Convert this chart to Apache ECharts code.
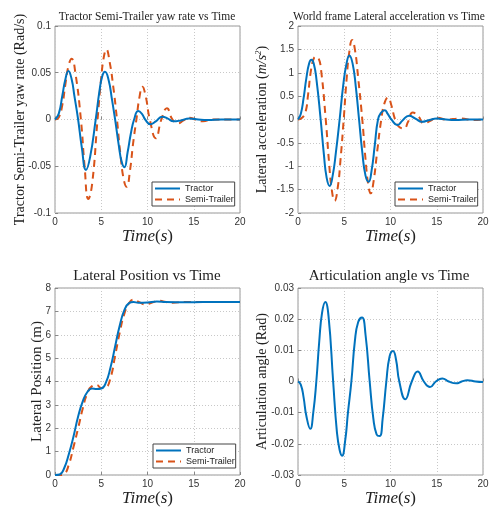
<!DOCTYPE html>
<html>
<head>
<meta charset="utf-8">
<script src="https://cdn.jsdelivr.net/npm/echarts@6/dist/echarts.min.js"></script>
<style>html,body{margin:0;padding:0;background:#fff}#c{width:492px;height:510px}</style>
</head>
<body>
<div id="c"></div>
<script>
// ---- Data ----
// Panel 1: yaw rate (Rad/s)
const yawTractorT = [0,0.4,0.8,1.1,1.45,1.8,2.1,2.5,2.9,3.35,3.8,4.4,4.8,5.1,5.4,5.8,6.15,6.5,6.9,7.2,7.5,7.85,8.2,8.55,9.0,9.4,9.75,10.3,10.9,11.6,12.2,12.8,13.6,14.5,15.5,16.5,18,20];
const yawTractorY = [0,0.006,0.026,0.042,0.052,0.043,0.025,0,-0.03,-0.054,-0.04,0,0.03,0.046,0.051,0.042,0.022,0,-0.028,-0.045,-0.051,-0.035,-0.015,0,0.009,0.006,0,-0.005,-0.002,0.003,0.001,-0.002,-0.001,0.001,0,-0.0005,0,0];
const yawTrailerT = [0,0.4,0.8,1.1,1.45,1.8,2.2,2.8,3.2,3.6,4.0,4.6,5.0,5.3,5.55,5.9,6.3,6.7,7.1,7.45,7.75,8.1,8.45,8.8,9.15,9.45,9.8,10.25,10.9,11.5,12.1,12.7,13.3,13.9,14.5,15.2,16.0,17.0,18.5,20];
const yawTrailerY = [0,0.002,0.016,0.036,0.057,0.065,0.05,0,-0.05,-0.085,-0.07,0,0.045,0.068,0.075,0.062,0.035,0,-0.04,-0.065,-0.072,-0.055,-0.025,0,0.025,0.035,0.025,0,-0.02,0,0.012,0,-0.004,-0.001,0.002,0,-0.002,0,0,0];

// Panel 2: lateral acceleration (m/s^2)
const accTractorT = [0,0.3,0.6,0.9,1.2,1.45,1.7,2.0,2.45,2.8,3.1,3.42,3.75,4.1,4.5,4.9,5.25,5.55,5.9,6.25,6.6,6.95,7.3,7.64,7.95,8.3,8.65,9.0,9.37,9.7,10.1,10.74,11.3,12.0,12.7,13.4,14.2,15.0,16,17,18.5,20];
const accTractorY = [0,0.12,0.45,0.88,1.2,1.28,1.2,0.85,0,-0.75,-1.25,-1.42,-1.2,-0.7,0,0.75,1.2,1.37,1.2,0.7,0,-0.7,-1.2,-1.33,-1.1,-0.55,0,0.15,0.2,0.12,0,-0.12,-0.02,0.08,0.02,-0.05,-0.01,0.02,0,-0.01,0,0];
const accTrailerT = [0,0.4,0.8,1.1,1.4,1.7,1.95,2.2,2.5,3.0,3.35,3.65,3.96,4.3,4.6,4.94,5.25,5.55,5.85,6.15,6.5,6.95,7.3,7.6,7.86,8.15,8.55,9.0,9.35,9.73,10.1,10.5,11.0,11.46,11.9,12.4,13.0,13.6,14.3,15.0,16.0,17.5,19,20];
const accTrailerY = [0,0.03,0.15,0.55,1.05,1.3,1.34,1.32,1.05,0,-0.9,-1.5,-1.74,-1.45,-0.85,0,0.85,1.45,1.7,1.5,0.9,0,-0.85,-1.4,-1.58,-1.35,-0.7,0,0.35,0.47,0.3,0,-0.17,-0.19,-0.05,0.15,0.07,-0.08,-0.03,0.04,0,0.02,-0.01,0];

// Panel 3: lateral position (m)
const posTractorT = [0,0.5,1.0,1.5,2.0,2.5,3.0,3.5,4.0,4.5,5.0,5.5,6.0,6.5,7.0,7.5,8.0,8.5,9.0,10,11,12,14,16,18,20];
const posTractorY = [0,0.02,0.3,0.9,1.65,2.5,3.15,3.55,3.7,3.68,3.7,3.95,4.6,5.5,6.4,7.05,7.35,7.4,7.37,7.38,7.42,7.4,7.39,7.4,7.4,7.4];
const posTrailerT = [0,0.5,1.0,1.5,2.0,2.5,3.0,3.5,4.0,4.5,5.0,5.5,6.0,6.5,7.0,7.5,8.0,8.5,9.0,9.8,10.5,11.3,12.0,12.7,14,16,18,20];
const posTrailerY = [0,0,0.05,0.45,1.2,2.0,2.85,3.5,3.8,3.85,3.72,3.75,4.15,5.1,6.1,6.9,7.35,7.5,7.42,7.3,7.38,7.45,7.4,7.37,7.4,7.4,7.4,7.4];

// Panel 4: articulation angle (Rad)
const artT = [0,0.3,0.6,0.9,1.33,1.65,1.98,2.3,2.6,2.95,3.3,3.8,4.2,4.5,4.76,5.1,5.4,5.77,6.15,6.5,6.92,7.3,7.75,8.15,8.5,8.83,9.15,9.55,9.9,10.27,10.6,10.95,11.6,12.3,12.94,13.6,14.27,14.9,15.6,16.3,17.1,17.7,18.3,19.2,20];
const artY = [0,-0.001,-0.005,-0.011,-0.0152,-0.01,0,0.013,0.022,0.0255,0.021,0,-0.016,-0.022,-0.0238,-0.019,-0.01,0,0.013,0.019,0.0205,0.015,0,-0.012,-0.017,-0.0175,-0.012,0,0.008,0.0098,0.007,0,-0.0057,0,0.0032,0,-0.0018,0,0.001,0,-0.0006,0,0.0004,0,-0.0002];

// Axis ranges / ticks
const xRange = [0, 20, 5];
const yRanges = [[-0.1, 0.1, 0.05], [-2, 2, 0.5], [0, 8, 1], [-0.03, 0.03, 0.01]];
const titles = ['Tractor Semi-Trailer yaw rate vs Time', 'World frame Lateral acceleration vs Time', 'Lateral Position vs Time', 'Articulation angle vs Time'];
const seriesNames = ['Tractor', 'Semi-Trailer'];

// ---- Layout / style ----
const BLUE = '#0072BD', ORANGE = '#D95319';
const SERIF = '"Liberation Serif","DejaVu Serif",serif';
const SANS = '"Liberation Sans",Arial,Helvetica,sans-serif';
const grids = [
  {left: 55, top: 26, width: 185, height: 187},
  {left: 298, top: 26, width: 185, height: 187},
  {left: 55, top: 288, width: 185, height: 187},
  {left: 298, top: 288, width: 185, height: 187}
];
const zip = (t, y) => t.map((v, i) => [v, y[i]]);

const timeName = '{i|Time}{r|(}{i|s}{r|)}';
const timeRich = {
  i: {fontFamily: SERIF, fontStyle: 'italic', fontSize: 17, color: '#222'},
  r: {fontFamily: SERIF, fontSize: 17, color: '#222'}
};

const yNames = [
  {text: 'Tractor Semi-Trailer yaw rate (Rad/s)', gap: 28, size: 14},
  {text: '{n|Lateral acceleration (}{i|m/s}{s|2}{n|)}', gap: 27, size: 14},
  {text: 'Lateral Position (m)', gap: 10, size: 15},
  {text: 'Articulation angle (Rad)', gap: 29, size: 14}
];

const xAxes = grids.map((g, i) => ({
  type: 'value', gridIndex: i, min: xRange[0], max: xRange[1], interval: xRange[2],
  name: timeName, nameLocation: 'middle', nameGap: 15,
  nameTextStyle: {rich: timeRich},
  axisLine: {show: false},
  axisTick: {show: true, inside: true, length: 3, lineStyle: {color: '#888'}},
  axisLabel: {fontFamily: SANS, fontSize: 10, color: '#333', margin: 4},
  splitLine: {show: true, lineStyle: {type: [1, 2], color: '#c8c8c8', width: 1}}
}));

const yAxes = grids.map((g, i) => ({
  type: 'value', gridIndex: i, min: yRanges[i][0], max: yRanges[i][1], interval: yRanges[i][2],
  name: yNames[i].text, nameLocation: 'middle', nameGap: yNames[i].gap,
  nameMoveOverlap: false,
  nameTextStyle: {
    fontFamily: SERIF, fontSize: yNames[i].size, color: '#222',
    rich: {
      n: {fontFamily: SERIF, fontSize: 14, color: '#222'},
      i: {fontFamily: SERIF, fontSize: 14, fontStyle: 'italic', color: '#222'},
      s: {fontFamily: SERIF, fontSize: 9, fontStyle: 'italic', color: '#222', verticalAlign: 'top', padding: [0, 0, 8, 0]}
    }
  },
  axisLine: {show: false},
  axisTick: {show: true, inside: true, length: 3, lineStyle: {color: '#888'}},
  axisLabel: {fontFamily: SANS, fontSize: 10, color: '#333', margin: 4},
  splitLine: {show: true, lineStyle: {type: [1, 2], color: '#c8c8c8', width: 1}}
}));

const lineSeries = (name, data, idx, color, dashed) => ({
  name, type: 'line', xAxisIndex: idx, yAxisIndex: idx, data,
  smooth: 0.5, symbol: 'none', animation: false, z: dashed ? 3 : 4,
  lineStyle: {color, width: 2, type: dashed ? [7, 5] : 'solid'},
  itemStyle: {color}
});

const series = [
  lineSeries(seriesNames[0], zip(yawTractorT, yawTractorY), 0, BLUE, false),
  lineSeries(seriesNames[1], zip(yawTrailerT, yawTrailerY), 0, ORANGE, true),
  lineSeries(seriesNames[0], zip(accTractorT, accTractorY), 1, BLUE, false),
  lineSeries(seriesNames[1], zip(accTrailerT, accTrailerY), 1, ORANGE, true),
  lineSeries(seriesNames[0], zip(posTractorT, posTractorY), 2, BLUE, false),
  lineSeries(seriesNames[1], zip(posTrailerT, posTrailerY), 2, ORANGE, true),
  lineSeries('Articulation', zip(artT, artY), 3, BLUE, false)
];

const legendPos = [[152, 182], [395, 182], [153, 444]];
const legends = legendPos.map(p => ({
  data: seriesNames, left: p[0], top: p[1], orient: 'vertical',
  itemWidth: 25, itemHeight: 8, itemGap: 2, padding: [2, 1, 2, 2],
  backgroundColor: '#fff', borderColor: '#444', borderWidth: 1, borderRadius: 0,
  selectedMode: false,
  itemStyle: {opacity: 0},
  textStyle: {fontFamily: SANS, fontSize: 9, color: '#222'}
}));

const titleCfg = [
  {text: titles[0], left: 147, top: 11, size: 11.5},
  {text: titles[1], left: 389, top: 11, size: 11.5},
  {text: titles[2], left: 147, top: 269, size: 15},
  {text: titles[3], left: 389, top: 269, size: 15}
].map(t => ({
  text: t.text, left: t.left, top: t.top, textAlign: 'center', padding: 0,
  textStyle: {fontFamily: SERIF, fontWeight: 'normal', fontSize: t.size, color: '#222'}
}));

const chart = echarts.init(document.getElementById('c'), null, {renderer: 'canvas'});
chart.setOption({
  animation: false,
  backgroundColor: '#fff',
  title: titleCfg,
  legend: legends,
  grid: grids.map(g => Object.assign({show: true, borderColor: '#999', borderWidth: 1, backgroundColor: 'transparent', containLabel: false}, g)),
  xAxis: xAxes,
  yAxis: yAxes,
  series
});
</script>
</body>
</html>
